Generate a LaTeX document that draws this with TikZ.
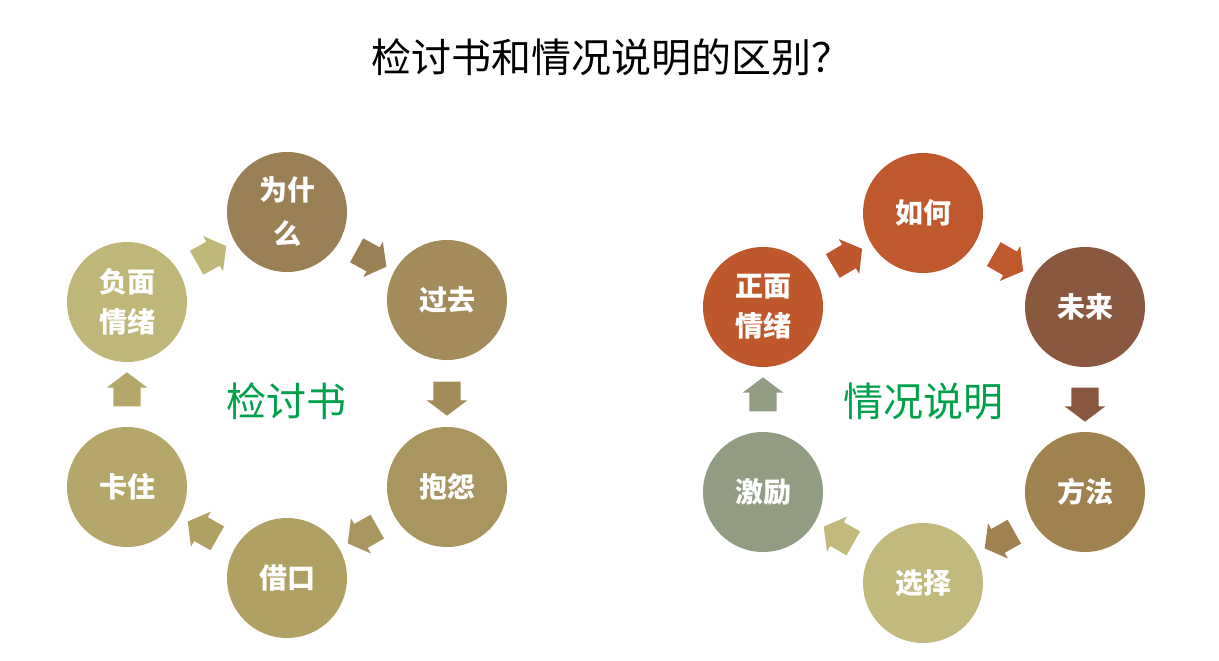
\documentclass[tikz,border=0pt]{standalone}
\usepackage{fontspec}
\setmainfont{Noto Sans CJK SC}
\usetikzlibrary{shapes.arrows,calc}

\definecolor{whyc}{HTML}{9B7F55}
\definecolor{pastc}{HTML}{A38B5B}
\definecolor{complainc}{HTML}{A9955F}
\definecolor{excusec}{HTML}{B0A064}
\definecolor{stuckc}{HTML}{B5A76B}
\definecolor{negc}{HTML}{BFB77A}
\definecolor{posc}{HTML}{BE582C}
\definecolor{howc}{HTML}{BF582C}
\definecolor{futurec}{HTML}{8A583E}
\definecolor{methodc}{HTML}{9F824F}
\definecolor{choosec}{HTML}{C2B97F}
\definecolor{motivc}{HTML}{929C83}
\definecolor{labelgreen}{HTML}{00A04A}

\begin{document}
\begin{tikzpicture}[x=1pt, y=-1pt,
    stepcircle/.style={circle, minimum size=120pt, inner sep=0pt, align=center, text=white, font=\fontsize{28}{40}\selectfont\bfseries},
    blockarrow/.style={single arrow, minimum height=34pt, single arrow head extend=6.5pt, single arrow tip angle=106, inner xsep=0pt, inner ysep=13.5pt},
    cyclename/.style={text=labelgreen, font=\fontsize{40}{44}\selectfont},
]
\useasboundingbox (0,0) rectangle (1219,661);

% --- title ---
\node[font=\fontsize{40}{44}\selectfont, anchor=west] (title) at (368,57) {检讨书和情况说明的区别？};

% --- left cycle ---
\node[stepcircle, fill=whyc] (why) at (287,212) {为什\\[4pt]么};
\node[stepcircle, fill=pastc] (past) at (447,300) {过去};
\node[stepcircle, fill=complainc] (complain) at (447,487) {抱怨};
\node[stepcircle, fill=excusec] (excuse) at (287,578) {借口};
\node[stepcircle, fill=stuckc] (stuck) at (127,487) {卡住};
\node[stepcircle, fill=negc] (neg) at (127,302) {负面\\情绪};
\node[cyclename] (review) at (286,401) {检讨书};

% --- right cycle ---
\node[stepcircle, fill=howc] (how) at (923,213) {如何};
\node[stepcircle, fill=futurec] (future) at (1085,307) {未来};
\node[stepcircle, fill=methodc] (method) at (1085,492) {方法};
\node[stepcircle, fill=choosec] (choose) at (923,583) {选择};
\node[stepcircle, fill=motivc] (motiv) at (763,492) {激励};
\node[stepcircle, fill=posc] (pos) at (763,307) {正面\\情绪};
\node[cyclename] (explain) at (923,401) {情况说明};

% --- block arrows halfway between circles ---
\foreach \a/\b/\c in {neg/why/negc, why/past/whyc, past/complain/pastc, complain/excuse/complainc,
    excuse/stuck/excusec, stuck/neg/stuckc, pos/how/posc, how/future/howc, future/method/futurec,
    method/choose/methodc, choose/motiv/choosec, motiv/pos/motivc}
  \path let \p1=($(\b)-(\a)$), \n1={atan2(\y1,\x1)} in
    node[blockarrow, fill=\c, rotate=\n1] (\a-\b) at ($(\a)!0.5!(\b)$) {};
\end{tikzpicture}
\end{document}
